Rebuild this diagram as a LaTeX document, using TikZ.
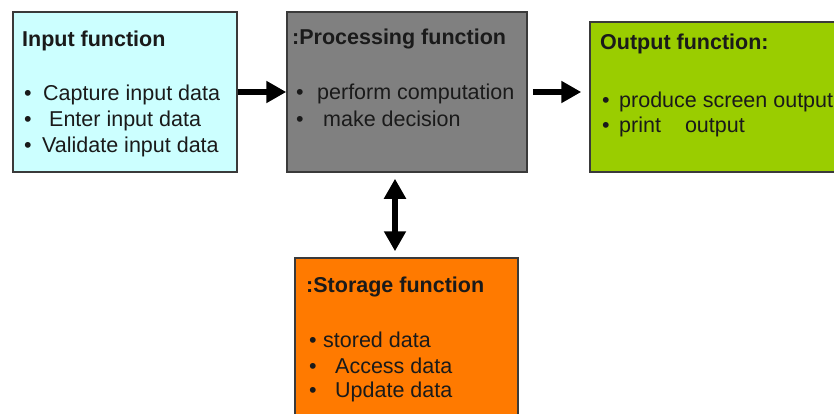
\documentclass[tikz,border=0pt]{standalone}
\usepackage{fontspec}
\setmainfont{Liberation Sans}
\usetikzlibrary{arrows.meta}
\definecolor{infill}{HTML}{CCFFFF}
\definecolor{procfill}{HTML}{808080}
\definecolor{outfill}{HTML}{9ACD00}
\definecolor{storefill}{HTML}{FF7A00}
\definecolor{edge}{HTML}{3A3A3A}
\definecolor{ink}{HTML}{1A1A1A}
\begin{document}
\begin{tikzpicture}[x=1pt,y=-1pt,
  box/.style={draw=edge,line width=1.5pt,rectangle,inner sep=0pt},
  line/.style={anchor=base west,inner sep=0pt,text=ink,font=\fontsize{21.5}{26}\selectfont},
  head/.style={line,font=\fontsize{21.5}{26}\selectfont\bfseries},
  flow/.style={line width=6.5pt,-{Triangle[width=21pt,length=20pt]}},
  twoway/.style={line width=6.5pt,{Triangle[width=21pt,length=20pt]}-{Triangle[width=21pt,length=20pt]}}]
\clip (0,0) rectangle (834,414);
\fill[white] (0,0) rectangle (834,414);

% the four function boxes
\node[box,fill=infill,minimum width=224pt,minimum height=160pt] (input) at (125,92) {};
\node[box,fill=procfill,minimum width=240pt,minimum height=160pt] (proc) at (407,92) {};
\node[box,fill=outfill,minimum width=260pt,minimum height=150pt] (output) at (720,97) {};
\node[box,fill=storefill,minimum width=223pt,minimum height=172pt] (store) at (406.5,344) {};

% input function
\node[head] (inT) at (22,47) {Input function};
\node[line] (in1) at (24,101) {\makebox[19pt][l]{•}Capture input data};
\node[line] (in2) at (24,127) {\makebox[25pt][l]{•}Enter input data};
\node[line] (in3) at (24,153) {\makebox[18pt][l]{•}Validate input data};

% processing function
\node[head] (prT) at (292,45) {:Processing function};
\node[line] (pr1) at (296,100) {\makebox[21pt][l]{•}perform computation};
\node[line] (pr2) at (296,127) {\makebox[27pt][l]{•}make decision};

% output function
\node[head] (ouT) at (600,50) {Output function:};
\node[line] (ou1) at (602,108) {\makebox[17pt][l]{•}produce screen output};
\node[line] (ou2) at (602,133) {\makebox[17pt][l]{•}print\hspace*{24pt}output};

% storage function
\node[head] (stT) at (306,292) {:Storage function};
\node[line] (st1) at (309,347) {\makebox[14pt][l]{•}stored data};
\node[line] (st2) at (309,373) {\makebox[26pt][l]{•}Access data};
\node[line] (st3) at (309,397) {\makebox[26pt][l]{•}Update data};

% connectors
\draw[flow] (input.east) -- (proc.west);
\draw[flow,shorten <=5pt,shorten >=8pt] (proc.east) -- (proc.east -| output.west);
\draw[twoway,shorten <=6pt,shorten >=6pt] ([xshift=-12pt]proc.south) -- ([xshift=-12pt]proc.south |- store.north);
\end{tikzpicture}
\end{document}
